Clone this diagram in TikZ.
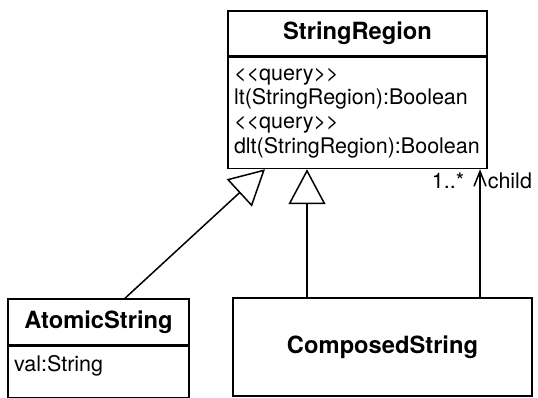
\documentclass[tikz,border=0pt]{standalone}
\usepackage{fontspec}
\setmainfont{TeX Gyre Heros}
\usetikzlibrary{arrows.meta,positioning}

\begin{document}
\begin{tikzpicture}[x=1pt,y=-1pt,line width=1.5pt,
    headbox/.style={draw,inner sep=0pt,font=\fontsize{23.7}{28}\selectfont\bfseries},
    bodybox/.style={draw,inner xsep=6pt,align=left,font=\fontsize{21.5}{24.3}\selectfont},
    lbl/.style={inner sep=0pt,font=\fontsize{21.5}{24.3}\selectfont},
    gen/.style={-{Triangle[open,length=35pt,width=37pt]},line join=miter},
    nav/.style={-{Straight Barb[length=15pt,width=12pt]}}]
      \useasboundingbox (0,0) rectangle (538,398);
      \node[headbox,minimum width=259pt,minimum height=45pt] (srhead) at (357.5,33.5) {StringRegion};
      \node[bodybox,text width=247pt,minimum height=111pt,below=0pt of srhead] (srops)
        {<{}<query>{}>\\lt(StringRegion):Boolean\\<{}<query>{}>\\dlt(StringRegion):Boolean};
      \node[headbox,minimum width=181pt,minimum height=46pt] (atomhead) at (98.5,322) {AtomicString};
      \node[bodybox,text width=169pt,inner ysep=9pt,text depth=17pt,below=0pt of atomhead] (atomattr) {val:String};
      \node[headbox,minimum width=299pt,minimum height=98pt] (comp) at (382.5,347) {ComposedString};
      \coordinate (childend) at ([xshift=122.5pt]srops.south);
      \draw[gen] ([xshift=26.5pt]atomhead.north)--([xshift=-92.5pt]srops.south);
      \draw[gen] ([xshift=-75.5pt]comp.north)--([xshift=-50.5pt]srops.south);
      \draw[nav] ([xshift=97.5pt]comp.north)--(childend);
      \node[lbl,anchor=base east] (mult) at ([xshift=-15pt,yshift=-19pt]childend) {1..*};
      \node[lbl,anchor=base west] (role) at ([xshift=7pt,yshift=-19pt]childend) {child};
    \end{tikzpicture}
\end{document}
